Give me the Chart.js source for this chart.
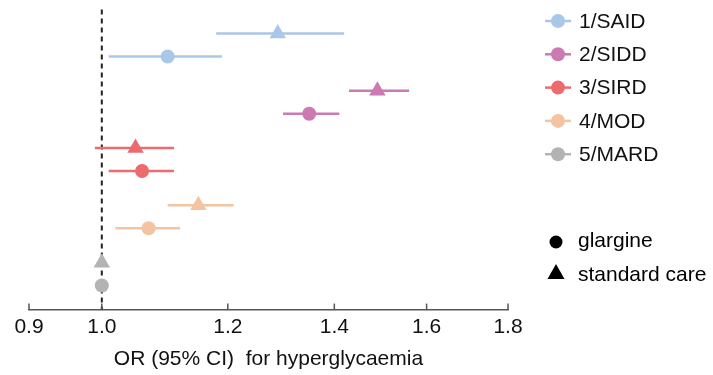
<!DOCTYPE html>
<html>
<head>
<meta charset="utf-8">
<script src="https://cdn.jsdelivr.net/npm/chart.js@4.4.1/dist/chart.umd.min.js"></script>
<style>
    html, body { margin: 0; padding: 0; background: #fff; }
    .chart-wrap { position: relative; width: 713px; height: 375px; }
</style>
</head>
<body>
<div class="chart-wrap"><canvas id="chart"></canvas></div>
<script>
// clusters and their colours
const groups = ['1/SAID', '2/SIDD', '3/SIRD', '4/MOD', '5/MARD'];
const groupColors = ['#aac7e8', '#cc7ab2', '#ec6b6e', '#f4c3a2', '#b3b3b3'];

// odds ratios with 95% CI, glargine
const glargineOR = [1.10, 1.35, 1.06, 1.07, 1.00];
const glargineLo = [1.01, 1.30, 1.01, 1.02, 1.00];
const glargineHi = [1.19, 1.41, 1.11, 1.12, 1.00];

// odds ratios with 95% CI, standard care
const standardOR = [1.29, 1.49, 1.05, 1.15, 1.00];
const standardLo = [1.18, 1.43, 0.99, 1.10, 1.00];
const standardHi = [1.42, 1.56, 1.11, 1.21, 1.00];

const xTicks = [0.9, 1.0, 1.2, 1.4, 1.6, 1.8];
const treatments = ['glargine', 'standard care'];

const FONT = 'Liberation Sans, Arial, sans-serif';

// row position: standard care above glargine in each cluster
function rowOf(g, isGlargine) {
    return isGlargine ? g + 0.4 : g;
}

const datasets = [];

// CI whiskers first so markers sit on top
groups.forEach(function(name, g) {
    [[standardLo, standardHi, false], [glargineLo, glargineHi, true]].forEach(function(set) {
        const lo = set[0][g], hi = set[1][g];
        if (lo === hi) return;
        datasets.push({
            label: name + ' CI',
            data: [{x: lo, y: rowOf(g, set[2])}, {x: hi, y: rowOf(g, set[2])}],
            showLine: true,
            borderColor: groupColors[g],
            borderWidth: 2.5,
            pointRadius: 0,
            pointHoverRadius: 0,
        });
    });
});

groups.forEach(function(name, g) {
    datasets.push({
        label: name + ' standard care',
        data: [{x: standardOR[g], y: rowOf(g, false)}],
        pointStyle: 'triangle',
        pointRadius: 9.5,
        backgroundColor: groupColors[g],
        borderColor: groupColors[g],
        borderWidth: 0,
    });
    datasets.push({
        label: name + ' glargine',
        data: [{x: glargineOR[g], y: rowOf(g, true)}],
        pointStyle: 'circle',
        pointRadius: 7,
        backgroundColor: groupColors[g],
        borderColor: groupColors[g],
        borderWidth: 0,
    });
});

const refLine = {
    id: 'refLine',
    beforeDatasetsDraw(chart) {
        const {ctx, chartArea, scales} = chart;
        const x = scales.x.getPixelForValue(1.0);
        ctx.save();
        ctx.strokeStyle = '#222';
        ctx.lineWidth = 2;
        ctx.setLineDash([5, 4]);
        ctx.beginPath();
        ctx.moveTo(x, chartArea.top);
        ctx.lineTo(x, chartArea.bottom);
        ctx.stroke();
        ctx.restore();
    },
    afterDraw(chart) {
        const {ctx, chartArea, scales} = chart;
        ctx.save();
        // tick marks pointing up from the axis
        ctx.strokeStyle = '#555';
        ctx.lineWidth = 1.5;
        xTicks.forEach(function(v) {
            const x = scales.x.getPixelForValue(v);
            ctx.beginPath();
            ctx.moveTo(x, chartArea.bottom);
            ctx.lineTo(x, chartArea.bottom - 6);
            ctx.stroke();
        });

        // legend
        ctx.font = '21px ' + FONT;
        ctx.textBaseline = 'middle';
        ctx.fillStyle = '#111';
        groups.forEach(function(name, g) {
            const y = 21 + g * 33.3;
            ctx.strokeStyle = groupColors[g];
            ctx.lineWidth = 2.5;
            ctx.beginPath();
            ctx.moveTo(545, y);
            ctx.lineTo(571, y);
            ctx.stroke();
            ctx.fillStyle = groupColors[g];
            ctx.beginPath();
            ctx.arc(558, y, 7, 0, Math.PI * 2);
            ctx.fill();
            ctx.fillStyle = '#111';
            ctx.fillText(name, 579, y + 1);
        });

        ctx.fillStyle = '#000';
        ctx.beginPath();
        ctx.arc(556, 242, 6.5, 0, Math.PI * 2);
        ctx.fill();
        ctx.fillText(treatments[0], 578, 241);

        ctx.beginPath();
        ctx.moveTo(556, 264);
        ctx.lineTo(564.5, 279);
        ctx.lineTo(547.5, 279);
        ctx.closePath();
        ctx.fill();
        ctx.fillText(treatments[1], 578, 275);
        ctx.restore();
    }
};

new Chart(document.getElementById('chart'), {
    type: 'scatter',
    data: { datasets: datasets },
    options: {
        responsive: true,
        maintainAspectRatio: false,
        animation: false,
        layout: {
            padding: { left: 29, right: 205, top: 9, bottom: 3 }
        },
        plugins: {
            legend: { display: false },
            tooltip: { enabled: false },
        },
        scales: {
            x: {
                type: 'logarithmic',
                min: 0.9,
                max: 1.8,
                afterBuildTicks: function(scale) {
                    scale.ticks = xTicks.map(v => ({ value: v }));
                },
                ticks: {
                    callback: function(value) {
                        return Number(value).toFixed(1);
                    },
                    font: { size: 21, family: FONT },
                    color: '#111',
                    padding: 5,
                    maxRotation: 0,
                    autoSkip: false,
                },
                grid: { display: false, drawTicks: false },
                border: { display: true, color: '#555', width: 1.5 },
                title: {
                    display: true,
                    text: 'OR (95% CI)  for hyperglycaemia',
                    font: { size: 21, family: FONT },
                    color: '#111',
                    padding: { top: 2, bottom: 0 },
                },
            },
            y: {
                type: 'linear',
                display: false,
                reverse: true,
                min: -0.42,
                max: 4.82,
            },
        },
    },
    plugins: [refLine],
});
</script>
</body>
</html>
